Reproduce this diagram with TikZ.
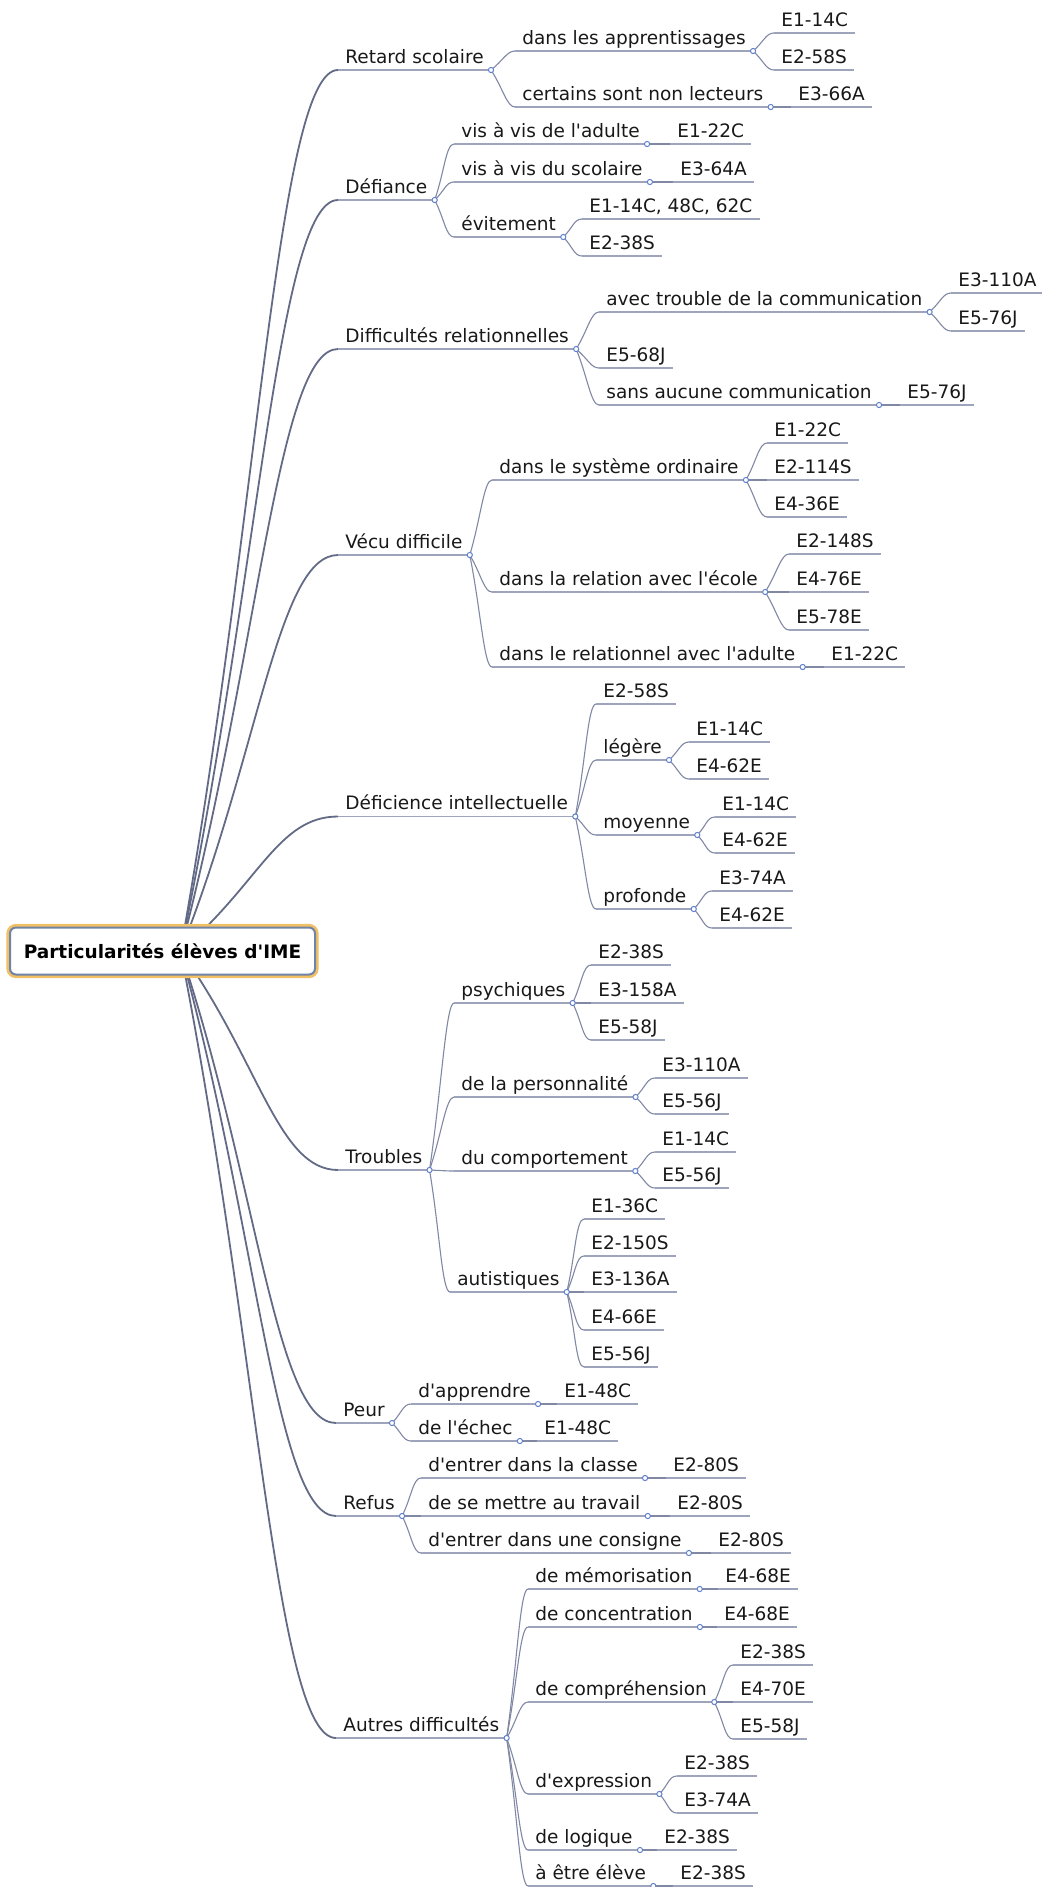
\documentclass[tikz,border=0pt]{standalone}
\usepackage{fontspec}
\newfontfamily\mapfont{DejaVu Sans}
\usetikzlibrary{calc,backgrounds}

\definecolor{stemcol}{RGB}{98,106,134}
\definecolor{twigcol}{RGB}{128,136,164}
\definecolor{linecol}{RGB}{158,164,188}
\definecolor{knobcol}{RGB}{96,128,206}
\definecolor{rootedge}{RGB}{112,132,168}
\definecolor{rootglow}{RGB}{240,192,100}
\definecolor{inkcol}{RGB}{24,24,24}

\tikzset{
  topic/.style={anchor=south west, inner xsep=3.5pt, inner ysep=0pt,
    text height=7pt, text depth=3.2pt, text=inkcol,
    append after command={\pgfextra{\draw[linecol, line width=0.65pt]
      (\tikzlastnode.south west) -- (\tikzlastnode.south east);}}},
  centre/.style={fill=white, draw=rootedge, line width=1pt, rounded corners=3pt,
    preaction={draw=rootglow, line width=3.6pt},
    minimum width=152.5pt, minimum height=23.5pt, font=\mapfont\fontsize{9.25}{11}\selectfont\bfseries},
  branch/.style={draw=stemcol, line width=0.9pt,
    to path={.. controls ($(\tikztostart)!0.5!(\tikztotarget)$) and ($(\tikztotarget)+(-60,0)$) .. (\tikztotarget)}},
  twig/.style={draw=twigcol, line width=0.55pt,
    to path={.. controls ($(\tikztostart)!0.5!(\tikztotarget)$) and ($(\tikztotarget)+(-8,0)$) .. (\tikztotarget)}},
  knob/.style={draw=knobcol, fill=white, line width=0.5pt}
}

\begin{document}
\begin{tikzpicture}[x=0.5pt, y=-0.5pt, font=\mapfont\fontsize{9.25}{11}\selectfont]
  \useasboundingbox (0,0) rectangle (1041,1887);

  \node[centre] (ime) at (162.5,951) {Particularités élèves d'IME};
  \coordinate (hub) at ($(ime.center)+(18,0)$);

  % first level
  \node[topic] (retard) at (338,70) {Retard scolaire};
  \node[topic] (defiance) at (338,200) {Défiance};
  \node[topic] (relation) at (338,349) {Difficultés relationnelles};
  \node[topic] (vecu) at (338,555) {Vécu difficile};
  \node[topic] (deficience) at (338,816.5) {Déficience intellectuelle};
  \node[topic] (troubles) at (338,1170) {Troubles};
  \node[topic] (peur) at (336,1423) {Peur};
  \node[topic] (refus) at (336,1516) {Refus};
  \node[topic] (autres) at (336,1738) {Autres difficultés};

  % retard scolaire
  \node[topic] (retard-a) at (515,51) {dans les apprentissages};
  \node[topic] (retard-a1) at (774,33) {E1-14C};
  \node[topic] (retard-a2) at (774,70) {E2-58S};
  \node[topic] (retard-b) at (515,107) {certains sont non lecteurs};
  \node[topic] (retard-b1) at (791,107) {E3-66A};

  % defiance
  \node[topic] (defiance-a) at (454,144) {vis à vis de l'adulte};
  \node[topic] (defiance-a1) at (670,144) {E1-22C};
  \node[topic] (defiance-b) at (454,182) {vis à vis du scolaire};
  \node[topic] (defiance-b1) at (673,182) {E3-64A};
  \node[topic] (defiance-c) at (454,237) {évitement};
  \node[topic] (defiance-c1) at (582,219) {E1-14C, 48C, 62C};
  \node[topic] (defiance-c2) at (582,256) {E2-38S};

  % difficultes relationnelles
  \node[topic] (relation-a) at (599,312) {avec trouble de la communication};
  \node[topic] (relation-a1) at (951,293) {E3-110A};
  \node[topic] (relation-a2) at (951,331) {E5-76J};
  \node[topic] (relation-b) at (599,368) {E5-68J};
  \node[topic] (relation-c) at (599,405) {sans aucune communication};
  \node[topic] (relation-c1) at (900,405) {E5-76J};

  % vecu difficile
  \node[topic] (vecu-a) at (492,480) {dans le système ordinaire};
  \node[topic] (vecu-a1) at (767,443) {E1-22C};
  \node[topic] (vecu-a2) at (767,480) {E2-114S};
  \node[topic] (vecu-a3) at (767,517) {E4-36E};
  \node[topic] (vecu-b) at (492,592) {dans la relation avec l'école};
  \node[topic] (vecu-b1) at (789,554) {E2-148S};
  \node[topic] (vecu-b2) at (789,592) {E4-76E};
  \node[topic] (vecu-b3) at (789,630) {E5-78E};
  \node[topic] (vecu-c) at (492,667) {dans le relationnel avec l'adulte};
  \node[topic] (vecu-c1) at (824,667) {E1-22C};

  % deficience intellectuelle
  \node[topic] (deficience-a) at (596,704) {E2-58S};
  \node[topic] (deficience-b) at (596,760) {légère};
  \node[topic] (deficience-b1) at (689,742) {E1-14C};
  \node[topic] (deficience-b2) at (689,779) {E4-62E};
  \node[topic] (deficience-c) at (596,835) {moyenne};
  \node[topic] (deficience-c1) at (715,817) {E1-14C};
  \node[topic] (deficience-c2) at (715,853) {E4-62E};
  \node[topic] (deficience-d) at (596,909) {profonde};
  \node[topic] (deficience-d1) at (712,891) {E3-74A};
  \node[topic] (deficience-d2) at (712,928) {E4-62E};

  % troubles
  \node[topic] (troubles-a) at (454,1003) {psychiques};
  \node[topic] (troubles-a1) at (591,965) {E2-38S};
  \node[topic] (troubles-a2) at (591,1003) {E3-158A};
  \node[topic] (troubles-a3) at (591,1040) {E5-58J};
  \node[topic] (troubles-b) at (454,1097) {de la personnalité};
  \node[topic] (troubles-b1) at (655,1078) {E3-110A};
  \node[topic] (troubles-b2) at (655,1114) {E5-56J};
  \node[topic] (troubles-c) at (454,1171) {du comportement};
  \node[topic] (troubles-c1) at (655,1152) {E1-14C};
  \node[topic] (troubles-c2) at (655,1188) {E5-56J};
  \node[topic] (troubles-d) at (450,1292) {autistiques};
  \node[topic] (troubles-d1) at (584,1219) {E1-36C};
  \node[topic] (troubles-d2) at (584,1256) {E2-150S};
  \node[topic] (troubles-d3) at (584,1292) {E3-136A};
  \node[topic] (troubles-d4) at (584,1330) {E4-66E};
  \node[topic] (troubles-d5) at (584,1367) {E5-56J};

  % peur
  \node[topic] (peur-a) at (411,1404) {d'apprendre};
  \node[topic] (peur-a1) at (557,1404) {E1-48C};
  \node[topic] (peur-b) at (411,1441) {de l'échec};
  \node[topic] (peur-b1) at (537,1441) {E1-48C};

  % refus
  \node[topic] (refus-a) at (421,1478) {d'entrer dans la classe};
  \node[topic] (refus-a1) at (666,1478) {E2-80S};
  \node[topic] (refus-b) at (421,1516) {de se mettre au travail};
  \node[topic] (refus-b1) at (670,1516) {E2-80S};
  \node[topic] (refus-c) at (421,1553) {d'entrer dans une consigne};
  \node[topic] (refus-c1) at (711,1553) {E2-80S};

  % autres difficultes
  \node[topic] (autres-a) at (528,1589) {de mémorisation};
  \node[topic] (autres-a1) at (718,1589) {E4-68E};
  \node[topic] (autres-b) at (528,1627) {de concentration};
  \node[topic] (autres-b1) at (717,1627) {E4-68E};
  \node[topic] (autres-c) at (528,1702) {de compréhension};
  \node[topic] (autres-c1) at (733,1665) {E2-38S};
  \node[topic] (autres-c2) at (733,1702) {E4-70E};
  \node[topic] (autres-c3) at (733,1739) {E5-58J};
  \node[topic] (autres-d) at (528,1794) {d'expression};
  \node[topic] (autres-d1) at (677,1776) {E2-38S};
  \node[topic] (autres-d2) at (677,1813) {E3-74A};
  \node[topic] (autres-e) at (528,1850) {de logique};
  \node[topic] (autres-e1) at (657,1850) {E2-38S};
  \node[topic] (autres-f) at (528,1886) {à être élève};
  \node[topic] (autres-f1) at (673,1886) {E2-38S};

  \begin{scope}[on background layer]
    \foreach \b in {retard,defiance,relation,vecu,deficience,troubles,peur,refus,autres}
      \draw[branch] (hub) to (\b.south west);
  \end{scope}

  \foreach \a/\b in {retard/retard-a,retard/retard-b,retard-a/retard-a1,retard-a/retard-a2,retard-b/retard-b1,
      defiance/defiance-a,defiance/defiance-b,defiance/defiance-c,defiance-a/defiance-a1,defiance-b/defiance-b1,
      defiance-c/defiance-c1,defiance-c/defiance-c2,
      relation/relation-a,relation/relation-b,relation/relation-c,relation-a/relation-a1,relation-a/relation-a2,
      relation-c/relation-c1,
      vecu/vecu-a,vecu/vecu-b,vecu/vecu-c,vecu-a/vecu-a1,vecu-a/vecu-a2,vecu-a/vecu-a3,
      vecu-b/vecu-b1,vecu-b/vecu-b2,vecu-b/vecu-b3,vecu-c/vecu-c1,
      deficience/deficience-a,deficience/deficience-b,deficience/deficience-c,deficience/deficience-d,
      deficience-b/deficience-b1,deficience-b/deficience-b2,deficience-c/deficience-c1,deficience-c/deficience-c2,
      deficience-d/deficience-d1,deficience-d/deficience-d2,
      troubles/troubles-a,troubles/troubles-b,troubles/troubles-c,troubles/troubles-d,
      troubles-a/troubles-a1,troubles-a/troubles-a2,troubles-a/troubles-a3,troubles-b/troubles-b1,troubles-b/troubles-b2,
      troubles-c/troubles-c1,troubles-c/troubles-c2,troubles-d/troubles-d1,troubles-d/troubles-d2,
      troubles-d/troubles-d3,troubles-d/troubles-d4,troubles-d/troubles-d5,
      peur/peur-a,peur/peur-b,peur-a/peur-a1,peur-b/peur-b1,
      refus/refus-a,refus/refus-b,refus/refus-c,refus-a/refus-a1,refus-b/refus-b1,refus-c/refus-c1,
      autres/autres-a,autres/autres-b,autres/autres-c,autres/autres-d,autres/autres-e,autres/autres-f,
      autres-a/autres-a1,autres-b/autres-b1,autres-c/autres-c1,autres-c/autres-c2,autres-c/autres-c3,
      autres-d/autres-d1,autres-d/autres-d2,autres-e/autres-e1,autres-f/autres-f1}
    \draw[twig] (\a.south east) to (\b.south west);

  \foreach \a in {retard,retard-a,retard-b,defiance,defiance-a,defiance-b,defiance-c,
      relation,relation-a,relation-c,vecu,vecu-a,vecu-b,vecu-c,
      deficience,deficience-b,deficience-c,deficience-d,
      troubles,troubles-a,troubles-b,troubles-c,troubles-d,
      peur,peur-a,peur-b,refus,refus-a,refus-b,refus-c,
      autres,autres-a,autres-b,autres-c,autres-d,autres-e,autres-f}
    \draw[knob] (\a.south east) circle (1.3pt);
\end{tikzpicture}
\end{document}
